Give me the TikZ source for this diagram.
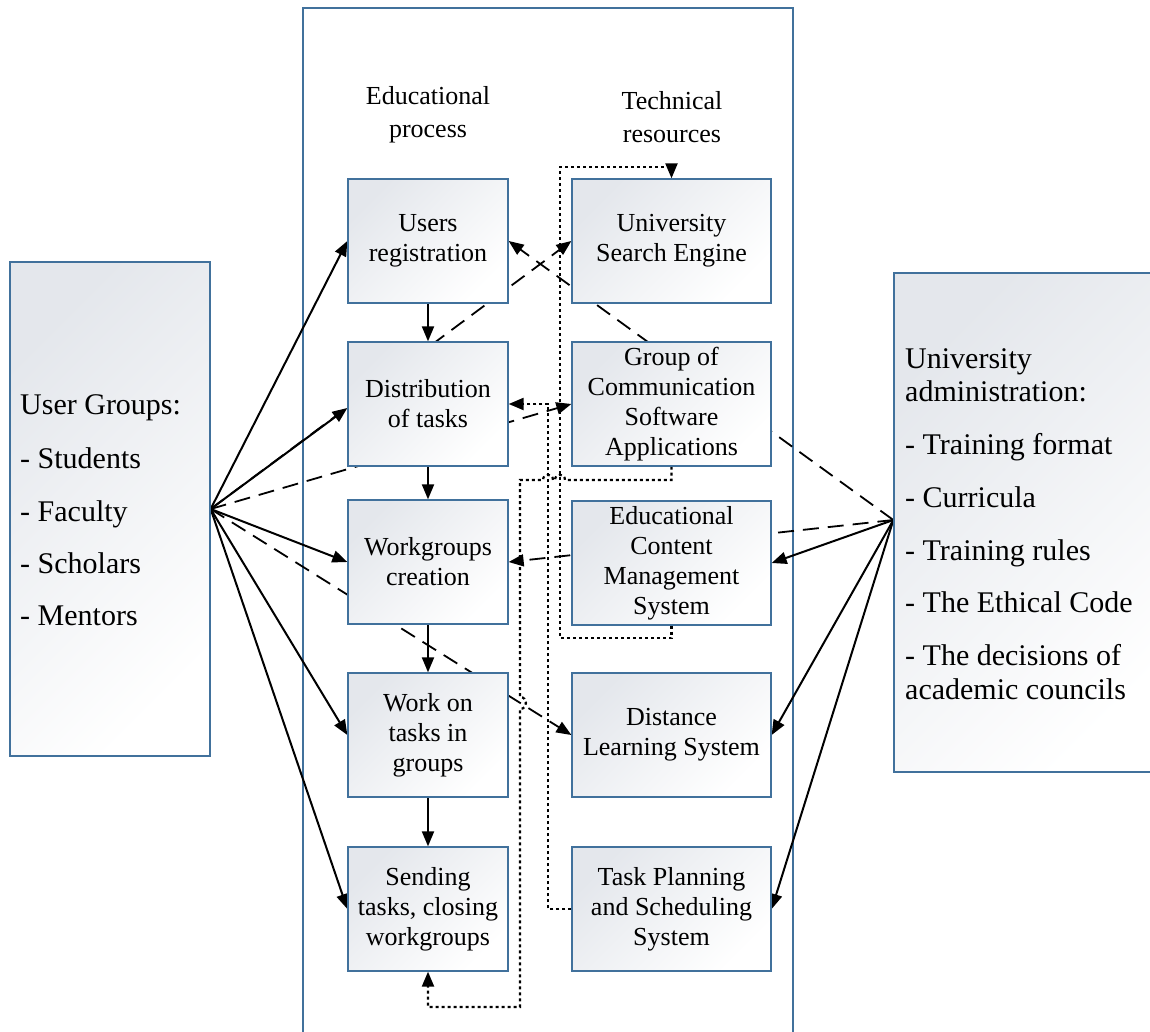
\documentclass[tikz,border=0pt]{standalone}
\usepackage{fontspec}
\setmainfont{Liberation Serif}
\usetikzlibrary{arrows.meta}
\definecolor{bordc}{RGB}{65,113,156}
\definecolor{fillc}{RGB}{228,231,236}
\pgfdeclarelayer{back}
\pgfdeclarelayer{mid}
\pgfsetlayers{back,mid,main}
\begin{document}
\begin{tikzpicture}[x=1pt,y=-1pt,
  box/.style={draw=bordc,line width=1.3pt,top color=fillc,bottom color=white,shading angle=45,
    align=center,inner sep=0pt,font=\fontsize{26}{30}\selectfont,minimum height=124pt},
  lbox/.style={box,minimum width=160pt},
  rbox/.style={box,minimum width=199pt},
  tipstyle/.style={-{Triangle[length=15pt,width=12pt]}},
  arr/.style={tipstyle,line width=2pt},
  dasharr/.style={tipstyle,line width=1.8pt,dash pattern=on 16pt off 9pt},
  dotarr/.style={tipstyle,line width=2.2pt,dash pattern=on 3pt off 3pt},
  side/.style={anchor=base west,inner sep=0pt,font=\fontsize{30}{34}\selectfont},
  hdr/.style={align=center,inner sep=0pt,font=\fontsize{26}{33}\selectfont},
]
\useasboundingbox (0,0) rectangle (1150,1032);

\begin{pgfonlayer}{back}
\node[draw=bordc,line width=1.3pt,fill=white,minimum width=490pt,minimum height=1040pt,inner sep=0pt] (mid) at (548,528) {};
\end{pgfonlayer}

% side boxes
\node[box,minimum width=200pt,minimum height=494pt] (ug) at (110,509) {};
\node[box,minimum width=275pt,minimum height=499pt] (adm) at (1031.5,522.5) {};

\node[side] (ug1) at (20,414) {User Groups:};
\node[side] (ug2) at (20,468) {- Students};
\node[side] (ug3) at (20,521) {- Faculty};
\node[side] (ug4) at (20,573) {- Scholars};
\node[side] (ug5) at (20,625) {- Mentors};

\node[side] (ad1) at (905,368) {University};
\node[side] (ad2) at (905,401) {administration:};
\node[side] (ad3) at (905,454) {- Training format};
\node[side] (ad4) at (905,507) {- Curricula};
\node[side] (ad5) at (905,560) {- Training rules};
\node[side] (ad6) at (905,612) {- The Ethical Code};
\node[side] (ad7) at (905,665) {- The decisions of};
\node[side] (ad8) at (905,699) {academic councils};

% headers
\node[hdr] (h1) at (428,115) {Educational\\process};
\node[hdr] (h2) at (672,117) {Technical\\resources};

% column boxes
\node[lbox] (ur) at (428,241) {Users\\registration};
\node[lbox] (dt) at (428,404) {Distribution\\of tasks};
\node[lbox] (wg) at (428,562) {Workgroups\\creation};
\node[lbox] (wt) at (428,735) {Work on\\tasks in\\groups};
\node[lbox] (st) at (428,909) {Sending\\tasks, closing\\workgroups};
\node[rbox] (se) at (671.5,241) {University\\Search Engine};
\node[rbox] (gc) at (671.5,404) {Group of\\Communication\\Software\\Applications};
\node[rbox] (ec) at (671.5,563) {Educational\\Content\\Management\\System};
\node[rbox] (dl) at (671.5,735) {Distance\\Learning System};
\node[rbox] (tp) at (671.5,909) {Task Planning\\and Scheduling\\System};

\coordinate (hl) at (ug.east);
\coordinate (hr) at (adm.west |- 0,520);
\coordinate (dtin) at ([yshift=-4pt]dt.west);

\begin{pgfonlayer}{mid}
% left hub
\draw[arr] (hl) -- (ur.west);
\draw[arr] (hl) -- (dtin);
\draw[arr] (hl) -- (wg.west);
\draw[arr] (hl) -- (wt.west);
\draw[arr] (hl) -- (st.west);
\draw[dasharr] (hl) -- (se.west);
\draw[dasharr] (hl) -- (gc.west);
\draw[dasharr] (hl) -- (dl.west);
% right hub
\draw[arr] (hr) -- (ec.east);
\draw[arr] (hr) -- (dl.east);
\draw[arr] (hr) -- (tp.east);
\draw[dasharr] (hr) -- (ur.east);
\draw[dasharr] (hr) -- (wg.east);
% process chain
\draw[arr] (ur) -- (dt);
\draw[arr] (dt) -- (wg);
\draw[arr] (wg) -- (wt);
\draw[arr] (wt) -- (st);
% dotted connectors
\draw[dotarr] (gc.south) |- (565,480)
  .. controls (565,473) and (555,473) .. (555,480) -- (553,480)
  .. controls (553,473) and (543,473) .. (543,480) -- (520,480) -- (520,697)
  .. controls (528,697) and (528,709) .. (520,709) -- (520,1007) -| (st.south);
\draw[dotarr] (ec.south) |- (560,638) -- (560,167) -| (se.north);
\draw[dotarr] (tp.west) -| (548,404) -- (dt.east);
\end{pgfonlayer}
\end{tikzpicture}
\end{document}
